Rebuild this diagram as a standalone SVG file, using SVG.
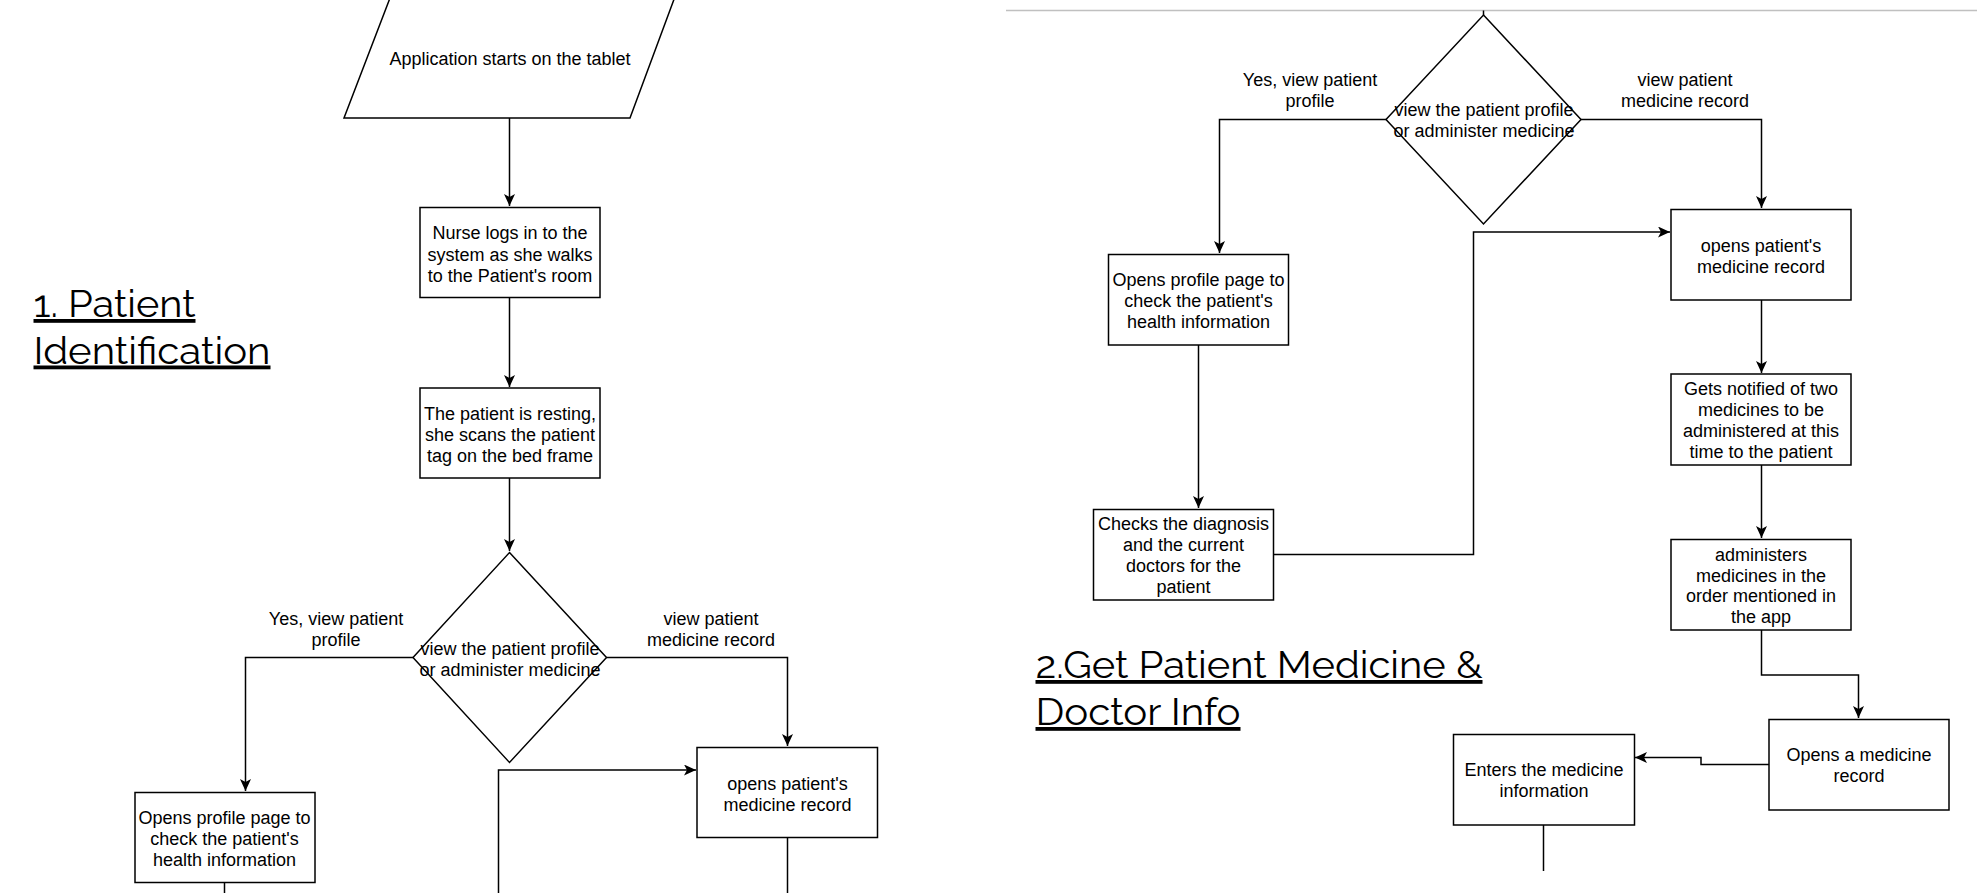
<svg xmlns="http://www.w3.org/2000/svg" width="1977" height="893" viewBox="0 0 1977 893">
<style>
.n{fill:#fff;stroke:#000;stroke-width:1.5}
.t{font-family:"Liberation Sans",Arial,sans-serif;font-size:18px;fill:#000;text-anchor:middle}
.h{font-family:Raleway,Lato,"Open Sans",sans-serif;font-weight:400;font-size:38px;fill:#000;text-decoration:underline}
.c{fill:none;stroke:#000;stroke-width:1.5}
</style>
<defs>
<marker id="a" markerUnits="userSpaceOnUse" markerWidth="12" markerHeight="11" refX="12" refY="5.5" orient="auto">
<path d="M0,0 L12,5.5 L0,11 L3,5.5 Z" fill="#000"/>
</marker>
</defs>
<rect width="1977" height="893" fill="#fff"/>
<line x1="1006" y1="10.5" x2="1977" y2="10.5" stroke="#c0c0c0" stroke-width="1.5"/>

<g id="connectors">
<path class="c" d="M509.5,118 V206" marker-end="url(#a)"/>
<path class="c" d="M509.5,298 V387" marker-end="url(#a)"/>
<path class="c" d="M509.5,478 V551" marker-end="url(#a)"/>
<path class="c" d="M413,657.5 H245.5 V791" marker-end="url(#a)"/>
<path class="c" d="M606.5,657.5 H787.5 V746" marker-end="url(#a)"/>
<path class="c" d="M224.5,883 V893"/>
<path class="c" d="M787.5,838 V893"/>
<path class="c" d="M498.5,893 V770 H696" marker-end="url(#a)"/>
<path class="c" d="M1483.5,10.5 V15"/>
<path class="c" d="M1386,119.5 H1219.5 V253" marker-end="url(#a)"/>
<path class="c" d="M1581,119.5 H1761.5 V208" marker-end="url(#a)"/>
<path class="c" d="M1198.5,345 V508" marker-end="url(#a)"/>
<path class="c" d="M1273.5,554.5 H1473.5 V232 H1670" marker-end="url(#a)"/>
<path class="c" d="M1761.5,300 V373" marker-end="url(#a)"/>
<path class="c" d="M1761.5,465 V538" marker-end="url(#a)"/>
<path class="c" d="M1761.5,630 V675 H1858.5 V718" marker-end="url(#a)"/>
<path class="c" d="M1769,764.5 H1701 V757.5 H1635" marker-end="url(#a)"/>
<path class="c" d="M1543.5,825 V871"/>
</g>

<g id="title1">
<text class="h" x="33.5" y="317" textLength="162" lengthAdjust="spacingAndGlyphs">1. Patient</text>
<text class="h" x="33.5" y="363.5" textLength="237" lengthAdjust="spacingAndGlyphs">Identification</text>
</g>
<g id="title2">
<text class="h" x="1035.5" y="678" textLength="447" lengthAdjust="spacingAndGlyphs">2.Get Patient Medicine &amp;</text>
<text class="h" x="1035.5" y="725" textLength="205" lengthAdjust="spacingAndGlyphs">Doctor Info</text>
</g>

<g id="start">
<polygon class="n" points="390,-2 674.5,-2 630,118 344,118"/>
<text class="t" x="510" y="65">Application starts on the tablet</text>
</g>
<g id="login">
<rect class="n" x="420" y="207.5" width="180" height="90"/>
<text class="t" x="510" y="239">Nurse logs in to the</text>
<text class="t" x="510" y="260.5">system as she walks</text>
<text class="t" x="510" y="282">to the Patient's room</text>
</g>
<g id="scan">
<rect class="n" x="420" y="388" width="180" height="90"/>
<text class="t" x="510" y="419.5">The patient is resting,</text>
<text class="t" x="510" y="440.5">she scans the patient</text>
<text class="t" x="510" y="461.5">tag on the bed frame</text>
</g>
<g id="decision1">
<polygon class="n" points="509.5,552.5 606.5,657.5 509.5,762.5 413,657.5"/>
<text class="t" x="510" y="654.5">view the patient profile</text>
<text class="t" x="510" y="675.5">or administer medicine</text>
</g>
<g id="label1a">
<text class="t" x="336" y="624.5">Yes, view patient</text>
<text class="t" x="336" y="645.5">profile</text>
</g>
<g id="label1b">
<text class="t" x="711" y="624.5">view patient</text>
<text class="t" x="711" y="645.5">medicine record</text>
</g>
<g id="profile1">
<rect class="n" x="135" y="792.5" width="180" height="90"/>
<text class="t" x="224.5" y="824">Opens profile page to</text>
<text class="t" x="224.5" y="845">check the patient's</text>
<text class="t" x="224.5" y="866">health information</text>
</g>
<g id="medrecord1">
<rect class="n" x="697" y="747.5" width="180.5" height="90"/>
<text class="t" x="787.5" y="789.5">opens patient's</text>
<text class="t" x="787.5" y="810.5">medicine record</text>
</g>

<g id="decision2">
<polygon class="n" points="1483.5,15 1581,119.5 1483.5,224 1386,119.5"/>
<text class="t" x="1484" y="116">view the patient profile</text>
<text class="t" x="1484" y="137">or administer medicine</text>
</g>
<g id="label2a">
<text class="t" x="1310" y="86">Yes, view patient</text>
<text class="t" x="1310" y="107">profile</text>
</g>
<g id="label2b">
<text class="t" x="1685" y="86">view patient</text>
<text class="t" x="1685" y="107">medicine record</text>
</g>
<g id="profile2">
<rect class="n" x="1108.5" y="254.5" width="180" height="90.5"/>
<text class="t" x="1198.5" y="286">Opens profile page to</text>
<text class="t" x="1198.5" y="307">check the patient's</text>
<text class="t" x="1198.5" y="328">health information</text>
</g>
<g id="checks">
<rect class="n" x="1093.5" y="509.5" width="180" height="90.5"/>
<text class="t" x="1183.5" y="530">Checks the diagnosis</text>
<text class="t" x="1183.5" y="551">and the current</text>
<text class="t" x="1183.5" y="572">doctors for the</text>
<text class="t" x="1183.5" y="593">patient</text>
</g>
<g id="medrecord2">
<rect class="n" x="1671" y="209.5" width="180" height="90.5"/>
<text class="t" x="1761" y="252">opens patient's</text>
<text class="t" x="1761" y="272.5">medicine record</text>
</g>
<g id="notified">
<rect class="n" x="1671" y="374" width="180" height="91"/>
<text class="t" x="1761" y="394.5">Gets notified of two</text>
<text class="t" x="1761" y="415.5">medicines to be</text>
<text class="t" x="1761" y="436.5">administered at this</text>
<text class="t" x="1761" y="457.5">time to the patient</text>
</g>
<g id="administers">
<rect class="n" x="1671" y="539.5" width="180" height="90.5"/>
<text class="t" x="1761" y="560.5">administers</text>
<text class="t" x="1761" y="581.5">medicines in the</text>
<text class="t" x="1761" y="602">order mentioned in</text>
<text class="t" x="1761" y="623">the app</text>
</g>
<g id="opensrecord">
<rect class="n" x="1769" y="719.5" width="180" height="90.5"/>
<text class="t" x="1859" y="761">Opens a medicine</text>
<text class="t" x="1859" y="782">record</text>
</g>
<g id="enters">
<rect class="n" x="1453.5" y="734.5" width="181" height="90.5"/>
<text class="t" x="1544" y="776">Enters the medicine</text>
<text class="t" x="1544" y="797">information</text>
</g>
</svg>
